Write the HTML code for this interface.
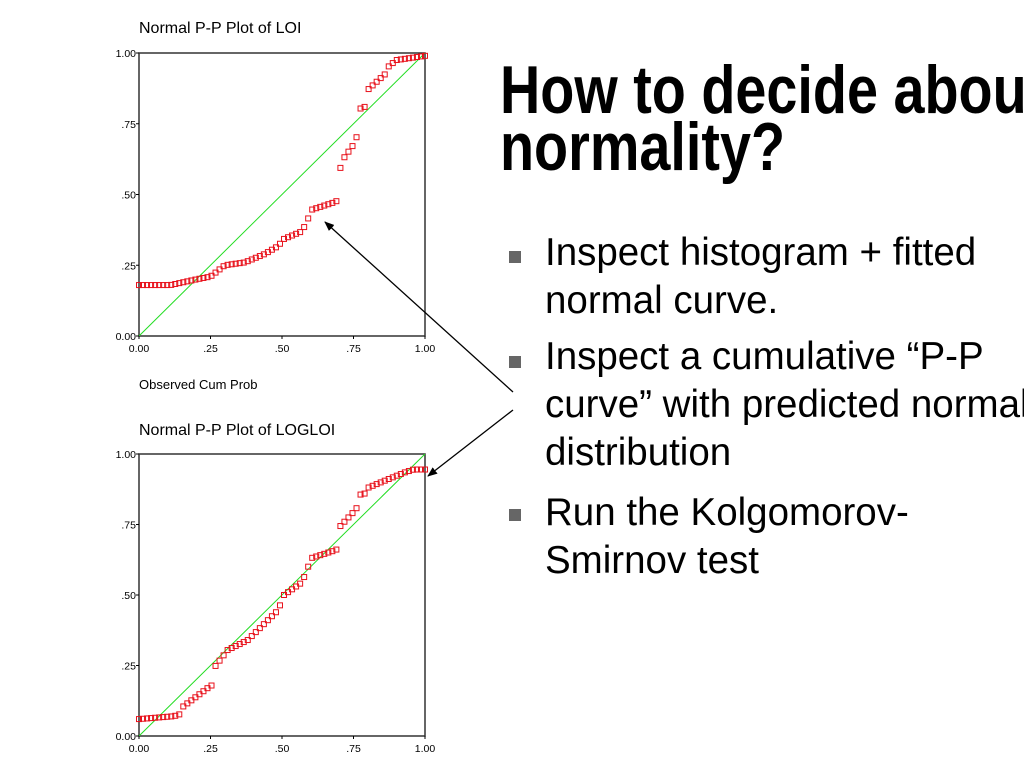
<!DOCTYPE html>
<html><head><meta charset="utf-8"><style>
html,body{margin:0;padding:0;background:#fff;width:1024px;height:768px;overflow:hidden;position:relative;font-family:"Liberation Sans",sans-serif}
.t{position:absolute;white-space:nowrap;color:#000}
.h{font-weight:bold;font-size:68px;line-height:57px;left:500px;top:62px;transform:scaleX(0.82);transform-origin:0 0}
.b{font-size:38.5px;line-height:48px;left:545px;color:#000}
.sq{position:absolute;width:12px;height:12px;background:#666;left:509px}
</style></head><body>
<svg width="1024" height="768" style="position:absolute;left:0;top:0" font-family="Liberation Sans, sans-serif">
<defs><marker id="ah" markerWidth="10" markerHeight="8" refX="9" refY="4" orient="auto" markerUnits="userSpaceOnUse"><path d="M0,0 L10,4 L0,8 Z" fill="#000"/></marker></defs>
<text x="139" y="33" font-size="16">Normal P-P Plot of LOI</text>
<text x="139" y="389" font-size="13">Observed Cum Prob</text>
<text x="139" y="435" font-size="16">Normal P-P Plot of LOGLOI</text>
<g id="p1"></g><g id="p2"></g>
<line x1="513" y1="392" x2="325" y2="222" stroke="#000" stroke-width="1.3" marker-end="url(#ah)"/>
<line x1="513" y1="410" x2="428" y2="476" stroke="#000" stroke-width="1.3" marker-end="url(#ah)"/>
</svg>
<div class="t h">How to decide about<br>normality?</div>
<div class="sq" style="top:251px"></div>
<div class="t b" style="top:229px">Inspect histogram + fitted<br>normal curve.</div>
<div class="sq" style="top:356px"></div>
<div class="t b" style="top:333px">Inspect a cumulative “P-P<br>curve” with predicted normal<br>distribution</div>
<div class="sq" style="top:509px"></div>
<div class="t b" style="top:489px">Run the Kolgomorov-<br>Smirnov test</div>
<script>
function interp(k,x){for(let i=0;i<k.length-1;i++){if(x>=k[i][0]&&x<=k[i+1][0]){let t=(x-k[i][0])/(k[i+1][0]-k[i][0]||1);return k[i][1]+t*(k[i+1][1]-k[i][1]);}}return k[k.length-1][1];}
function plot(id,x0,y0,x1,y1,keys){
 const g=document.getElementById(id);let s="";
 const W=x1-x0,H=y1-y0;
 s+=`<rect x="${x0}" y="${y0}" width="${W}" height="${H}" fill="#fff" stroke="#333" stroke-width="1.5"/>`;
 s+=`<line x1="${x0}" y1="${y1}" x2="${x1}" y2="${y0}" stroke="#22dd22" stroke-width="1"/>`;
 const lab=["0.00",".25",".50",".75","1.00"];
 for(let i=0;i<5;i++){let y=y1-H*i/4,x=x0+W*i/4;
  s+=`<line x1="${x0-3}" y1="${y}" x2="${x0}" y2="${y}" stroke="#000"/>`;
  s+=`<text x="${x0-3}" y="${y+4}" font-size="10.5" text-anchor="end">${lab[i]}</text>`;
  s+=`<line x1="${x}" y1="${y1}" x2="${x}" y2="${y1+3}" stroke="#000"/>`;
  s+=`<text x="${x}" y="${y1+16}" font-size="10.5" text-anchor="middle">${lab[i]}</text>`;}
 const n=72;
 for(let i=0;i<n;i++){let x=i/(n-1);let y=interp(keys,x);
  s+=`<rect x="${x0+W*x-2.5}" y="${y1-H*y-2.5}" width="5" height="5" fill="none" stroke="#e8101a" stroke-width="1"/>`;}
 g.innerHTML=s;}
plot("p1",139,53,425,336,[[0,.18],[0.11,.18],[0.2,.20],[0.25,.21],[0.3,.25],[0.37,.26],[0.44,.29],[0.49,.32],[0.5,.34],[0.57,.37],[0.59,.41],[0.6,.445],[0.69,.475],[0.7,.575],[0.71,.62],[0.76,.69],[0.765,.80],[0.79,.81],[0.8,.87],[0.86,.925],[0.87,.95],[0.9,.975],[1,.99]]);
plot("p2",139,454,425,736,[[0,.06],[0.12,.07],[0.14,.075],[0.155,.105],[0.24,.17],[0.255,.18],[0.265,.245],[0.31,.305],[0.38,.34],[0.49,.45],[0.5,.495],[0.57,.545],[0.59,.595],[0.6,.63],[0.69,.66],[0.70,.74],[0.76,.805],[0.77,.855],[0.79,.86],[0.8,.88],[0.87,.91],[0.93,.935],[0.96,.945],[1,.945]]);
</script>
</body></html>
